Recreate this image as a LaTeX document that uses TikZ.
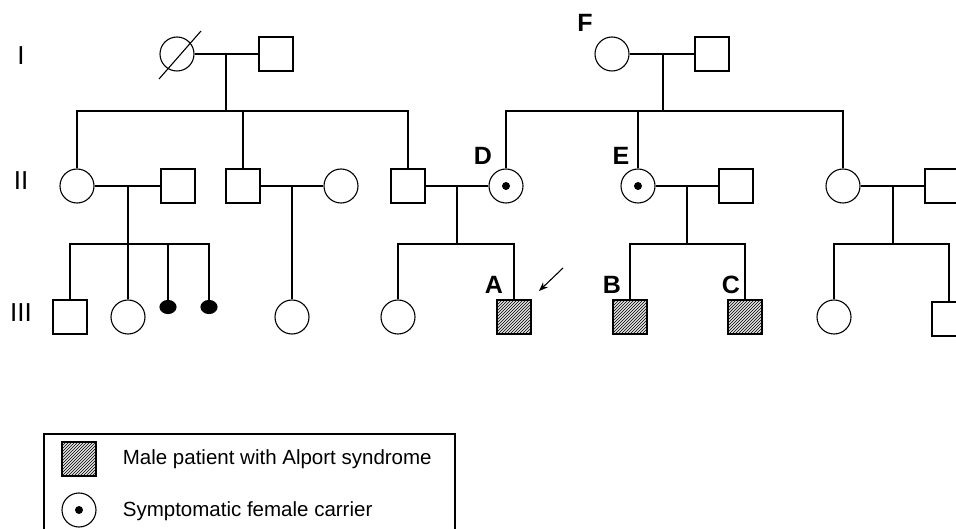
\documentclass[tikz,border=0pt]{standalone}
\usepackage{fontspec}
\setmainfont{Liberation Sans}
\usetikzlibrary{shapes.geometric,patterns,arrows.meta}
\begin{document}
\begin{tikzpicture}[x=1pt,y=-1pt,line width=1.1pt,
  male/.style={draw,rectangle,minimum size=34pt,inner sep=0pt},
  female/.style={draw,circle,minimum size=34pt,inner sep=0pt},
  affected/.style={male,fill=gray!22,postaction={pattern=north east lines}},
  sibdot/.style={draw,fill=black,ellipse,minimum width=16pt,minimum height=13pt,inner sep=0pt},
  gen/.style={font=\fontsize{26}{30}\selectfont},
  lab/.style={font=\fontsize{25}{30}\selectfont\bfseries},
  legtext/.style={font=\fontsize{20.5}{24}\selectfont,anchor=west}]
\useasboundingbox (0,0) rectangle (956,529);
\clip (0,0) rectangle (956,529);

% generation labels
\node[gen] (g1) at (21,56) {I};
\node[gen] (g2) at (21,181) {II};
\node[gen] (g3) at (21,313) {III};

% Generation I, left
\node[female] (i1) at (177,54) {};
\draw (159,79) -- (201,31);
\node[male] (i2) at (276,54) {};
\draw (i1) -- (i2);
\coordinate (m1) at (226,54);
\coordinate (c1) at (226,111);
\draw (m1) -- (c1);

% Generation I, right
\node[female] (f1) at (612,54) {};
\node[male] (f2) at (712,54) {};
\node[lab] (lF) at (585,23) {F};
\draw (f1) -- (f2);
\coordinate (m2) at (663,54);
\coordinate (c2) at (663,111);
\draw (m2) -- (c2);

% Generation II
\node[female] (ii1) at (77,186) {};
\node[male] (ii2) at (178,186) {};
\node[male] (ii3) at (243,186) {};
\node[female] (ii4) at (341,186) {};
\node[male] (ii5) at (408,186) {};
\node[female] (D) at (506,186) {};
\fill (D.center) circle (4);
\node[female] (E) at (638,186) {};
\fill (E.center) circle (4);
\node[male] (ii8) at (736,186) {};
\node[female] (ii9) at (843,186) {};
\node[male] (ii10) at (942,186) {};
\node[lab] (lD) at (483,156) {D};
\node[lab] (lE) at (621,156) {E};

\draw (ii1) |- (c1) -| (ii5);
\draw (ii3) -- (ii3 |- c1);
\draw (D) |- (c2) -| (ii9);
\draw (E) -- (E |- c2);

\draw (ii1) -- (ii2);
\draw (ii3) -- (ii4);
\draw (ii5) -- (D);
\draw (E) -- (ii8);
\draw (ii9) -- (ii10);

\coordinate (m3) at (128,186);
\coordinate (c3) at (128,244);
\coordinate (m4) at (292,186);
\coordinate (m5) at (457,186);
\coordinate (c5) at (457,244);
\coordinate (m6) at (687,186);
\coordinate (c6) at (687,244);
\coordinate (m7) at (893,186);
\coordinate (c7) at (893,244);

% Generation III
\node[male] (iii1) at (70,317) {};
\node[female] (iii2) at (128,317) {};
\node[sibdot] (iii3) at (168,307) {};
\node[sibdot] (iii4) at (209,307) {};
\node[female] (iii5) at (292,317) {};
\node[female] (iii6) at (398,317) {};
\node[affected] (A) at (514,317) {};
\node[affected] (B) at (630,317) {};
\node[affected] (C) at (745,317) {};
\node[female] (iii10) at (834,317) {};
\node[male] (iii11) at (949,319) {};
\node[lab] (lA) at (494,285) {A};
\node[lab] (lB) at (612,285) {B};
\node[lab] (lC) at (731,285) {C};

\draw (m3) -- (c3);
\draw (iii1) |- (c3) -| (iii4);
\draw (iii2) -- (iii2 |- c3);
\draw (iii3) -- (iii3 |- c3);
\draw (m4) -- (iii5);
\draw (m5) -- (c5);
\draw (iii6) |- (c5) -| (A);
\draw (m6) -- (c6);
\draw (B) |- (c6) -| (C);
\draw (m7) -- (c7);
\draw (iii10) |- (c7) -| (iii11);

% proband arrow
\coordinate (arS) at (563,268);
\coordinate (arE) at (539,291);
\draw[-{Stealth[length=9pt,width=7pt]}] (arS) -- (arE);

% legend
\draw (44,434) rectangle (455,560);
\node[affected] (lg1) at (79,459) {};
\node[female] (lg2) at (79,510) {};
\fill (lg2.center) circle (4);
\node[legtext] (lt1) at (119,459) {Male patient with Alport syndrome};
\node[legtext] (lt2) at (119,511) {Symptomatic female carrier};
\end{tikzpicture}
\end{document}
